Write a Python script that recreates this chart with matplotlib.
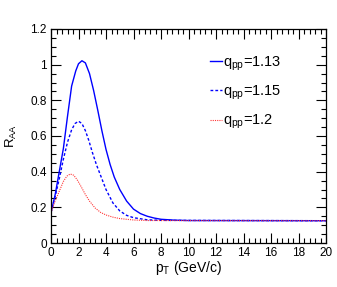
import matplotlib
matplotlib.use("Agg")
import matplotlib.pyplot as plt
from matplotlib.ticker import MultipleLocator, FormatStrFormatter

plt.rcParams["font.family"] = ["Liberation Sans", "DejaVu Sans"]
plt.rcParams["mathtext.fontset"] = "custom"
plt.rcParams["mathtext.rm"] = "Liberation Sans"
plt.rcParams["mathtext.it"] = "Liberation Sans:italic"

# --- Daten ---
pt_113 = [0, 0.3, 0.6, 0.9, 1.2, 1.5, 1.8, 2.0, 2.25, 2.5, 2.8, 3.1, 3.4,
          3.7, 4.0, 4.3, 4.6, 5.0, 5.5, 6.0, 6.5, 7.0, 7.5, 8.0, 9.0, 10, 20]
raa_113 = [0.17, 0.27, 0.40, 0.53, 0.71, 0.88, 0.965, 1.005, 1.022, 1.01,
           0.95, 0.855, 0.745, 0.63, 0.525, 0.44, 0.37, 0.30, 0.235, 0.19,
           0.165, 0.15, 0.14, 0.133, 0.128, 0.126, 0.125]

pt_115 = [0, 0.3, 0.6, 0.9, 1.2, 1.5, 1.75, 2.0, 2.25, 2.5, 2.75, 3.0, 3.3,
          3.6, 4.0, 4.5, 5.0, 5.5, 6.0, 7.0, 8.0, 20]
raa_115 = [0.17, 0.26, 0.36, 0.47, 0.565, 0.635, 0.67, 0.683, 0.67, 0.63,
           0.575, 0.51, 0.44, 0.38, 0.30, 0.225, 0.18, 0.155, 0.142, 0.13,
           0.127, 0.125]

pt_120 = [0, 0.3, 0.6, 0.9, 1.15, 1.4, 1.65, 1.9, 2.2, 2.5, 2.8, 3.2, 3.6,
          4.0, 4.5, 5.0, 6.0, 7.0, 20]
raa_120 = [0.17, 0.235, 0.29, 0.345, 0.375, 0.387, 0.38, 0.355, 0.315, 0.272,
           0.235, 0.197, 0.172, 0.157, 0.145, 0.137, 0.129, 0.126, 0.125]

fig = plt.figure(figsize=(3.37, 2.87), dpi=100)
ax = fig.add_axes([51/337, 44/287, 275/337, 214/287])

ax.plot(pt_113, raa_113, color="#0000ff", lw=1.0, label=r"q$_{\rm pp}$=1.13")
ax.plot(pt_115, raa_115, color="#0000ff", lw=1.0, dashes=(2, 1.5),
        label=r"q$_{\rm pp}$=1.15")
ax.plot(pt_120, raa_120, color="#ff3535", lw=0.8, dashes=(1, 1),
        label=r"q$_{\rm pp}$=1.2")

ax.set_xlim(0, 20)
ax.set_ylim(0, 1.2)
ax.xaxis.set_major_locator(MultipleLocator(2))
ax.xaxis.set_minor_locator(MultipleLocator(0.4))
ax.yaxis.set_major_locator(MultipleLocator(0.2))
ax.yaxis.set_minor_locator(MultipleLocator(0.05))
ax.xaxis.set_major_formatter(FormatStrFormatter("%g"))
ax.yaxis.set_major_formatter(FormatStrFormatter("%g"))
ax.tick_params(which="both", direction="in", top=True, right=True,
               labelsize=8.5, width=0.8)
ax.tick_params(which="major", length=7, pad=3)
ax.tick_params(which="minor", length=3.5)
for s in ax.spines.values():
    s.set_linewidth(0.9)

ax.set_xlabel(r"p$_{\rm T}$ (GeV/c)", fontsize=10, labelpad=0)
ax.set_ylabel(r"R$_{\rm AA}$", fontsize=9.5, labelpad=8)

ax.legend(loc="upper left", bbox_to_anchor=(0.557, 0.909), frameon=False,
          fontsize=10.5, handlelength=0.8, handletextpad=0.1,
          labelspacing=0.75, borderaxespad=0)

fig.savefig("out.png", dpi=100)
